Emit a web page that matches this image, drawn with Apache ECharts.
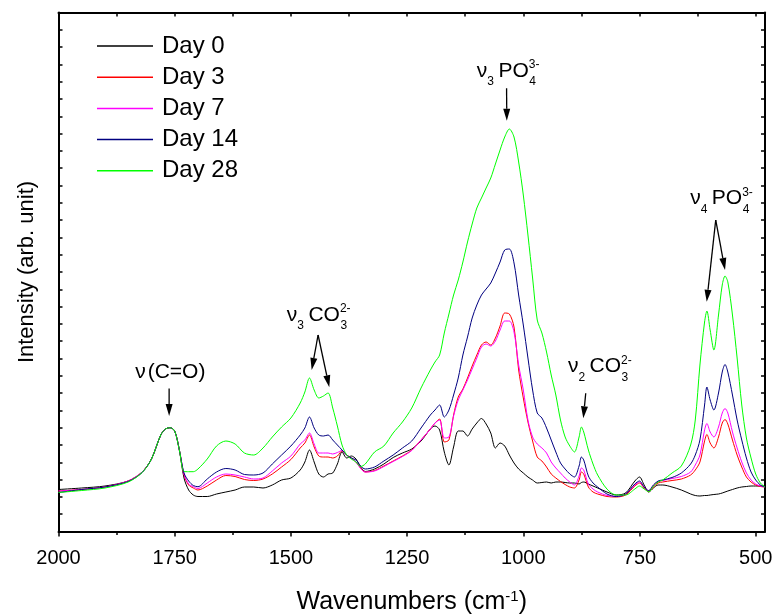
<!DOCTYPE html>
<html>
<head>
<meta charset="utf-8">
<script src="https://cdn.jsdelivr.net/npm/echarts@6/dist/echarts.min.js"></script>
<style>
  html, body { margin: 0; padding: 0; background: #fff; }
  #chart { width: 774px; height: 615px; }
</style>
</head>
<body>
<div id="chart"></div>
<script>
// FTIR spectra, intensity in arbitrary units
const wavenumbers = [
  2000, 1950, 1900, 1850, 1820, 1800, 1780, 1770, 1760, 1750, 1740,
  1730, 1720, 1710, 1700, 1680, 1660, 1640, 1620, 1600, 1580, 1560,
  1540, 1520, 1500, 1480, 1470, 1460, 1450, 1440, 1430, 1420, 1410, 1400, 1390,
  1380, 1370, 1360, 1350, 1340, 1320, 1300, 1280, 1260, 1240, 1220, 1200, 1190,
  1180, 1170, 1160, 1150, 1140, 1130, 1120, 1110, 1100, 1090, 1080, 1070, 1060,
  1050, 1040, 1030, 1020, 1010, 1000, 990, 980, 970, 960, 950, 940, 930,
  920, 910, 900, 890, 880, 875, 870, 860, 850, 840, 820, 800, 780,
  760, 750, 740, 730, 720, 710, 700, 680, 660, 640, 630,
  620, 610, 605, 598, 590, 580, 572, 566, 560, 550, 540, 530, 520, 510, 500, 490, 480
];

const day0 = [
  42, 43.5, 45.5, 50.5, 59.5, 72.5, 96.5, 102.5, 103.8, 100.5, 81.5,
  53.5, 41.5, 36.5, 35, 35, 37.5, 39.5, 41.5, 44.5, 44.5, 43.5,
  46.5, 51.5, 53.5, 61.5, 69.5, 81.5, 69.5, 57.5, 54.5, 57.5, 58.5, 67.5, 79.5,
  73.5, 75.5, 72.5, 64.5, 60, 62.5, 67.5, 74, 78.5, 82.5, 90.5, 102.5, 105.5,
  101.5, 79.5, 66.5, 84.5, 100.5, 100.5, 95.5, 102.5, 108.5, 113, 107.5, 98.5, 83.5,
  88.5, 85.5, 76.5, 68.5, 62.5, 58.5, 54.5, 51.5, 48.5, 49, 49.5, 48.5, 49.5,
  49.5, 49, 48.5, 48.5, 47.5, 49, 49.5, 47.5, 45.5, 43.5, 39.5, 36.5, 38.5,
  50.5, 54.5, 46.5, 39.5, 43.5, 46.5, 46.5, 44.5, 41.5, 37.5, 36,
  35.5, 36, 36, 36.5, 37, 37.5, 38.5, 39.5, 40.5, 42, 43.5, 44.5, 45, 45.5, 45.5, 45.5, 45.5
];

const day3 = [
  40.5, 42, 44.5, 50.5, 59.5, 72.5, 96.5, 102.5, 103.8, 100.5, 81.5,
  56.5, 46.5, 43.5, 41.5, 45.5, 51.5, 56, 55, 52, 51, 52.5,
  57.5, 64.5, 72, 83.5, 88.5, 96.5, 84.5, 75.5, 74.5, 74.5, 73.5, 75.5, 80.5,
  76.5, 73.5, 69.5, 63.5, 59.5, 61, 65.5, 70.5, 75.5, 81.5, 91.5, 102.5, 108.5,
  112.5, 89.5, 91.5, 116.5, 134.5, 142.5, 153.5, 165.5, 176.5, 186.5, 189.5, 186.5, 193.5,
  205.5, 218.5, 217.5, 204.5, 161.5, 133.5, 109.5, 90.5, 74.5, 70.5, 64.5, 57.5, 53.5,
  50, 47, 44.5, 43.5, 51.5, 59.5, 57.5, 44.5, 39.5, 37.5, 35, 34.5, 36.5,
  45.5, 48.5, 43.5, 39.8, 44.5, 48.5, 49.5, 51, 52.5, 56.5, 61.5,
  69.5, 90.5, 97, 88.5, 83.5, 94.5, 108.5, 112, 107.5, 91.5, 76.5, 64.5, 54.5, 49.5, 46.5, 45, 44.5
];

const day7 = [
  40.5, 42, 44.5, 50.5, 59.5, 72.5, 96.5, 102.5, 103.8, 100.5, 81.5,
  57.5, 47.5, 44.8, 43, 48.5, 54.5, 57.5, 56.5, 54.5, 52.5, 53.5,
  60.5, 68.5, 75.5, 87.5, 91.5, 98.5, 87.5, 78.5, 78.5, 78.5, 77.5, 79, 81,
  76, 73.5, 69.5, 63, 59.5, 60.5, 65, 70, 75, 81, 91.5, 102.5, 108.5,
  111.5, 93.5, 94.5, 115.5, 131.5, 141.5, 151.5, 162.5, 173.5, 184.5, 187.5, 185.5, 190.5,
  201.5, 210.5, 210.5, 199.5, 166.5, 141.5, 111.5, 94.5, 87.5, 83.5, 78.5, 69.5, 63.5,
  58.5, 53.5, 49.5, 46.5, 55.5, 63.5, 61.5, 47.5, 42.5, 39.5, 36, 35, 37.5,
  46.5, 49.5, 44.5, 40.8, 46.5, 50, 51, 53, 55, 59.5, 66.5,
  76.5, 101.5, 108, 99.5, 94.5, 104.5, 118.5, 123, 118.5, 99.5, 83.5, 69.5, 58.5, 51.5, 47.5, 45.5, 44.5
];

const day14 = [
  39, 42, 44.5, 50, 59, 72.5, 96.5, 102.5, 103.8, 100.5, 81.5,
  58.5, 50.5, 46, 44.8, 52.5, 59.5, 63, 61.5, 57, 56.5, 58.5,
  67.5, 76.5, 85.5, 96.5, 103.5, 114.5, 103.5, 96.5, 95.5, 96.5, 91.5, 86.5, 81.5,
  76.5, 73.5, 71.5, 65.5, 62.5, 64.5, 70.5, 76.5, 83.5, 90.5, 103.5, 116.5, 121.5,
  126.5, 114.5, 121.5, 136.5, 153.5, 176.5, 194.5, 213.5, 226.5, 236.5, 242.5, 248.5, 258.5,
  269.5, 281.5, 282.5, 268.5, 236.5, 206.5, 173.5, 141.5, 118.5, 113.5, 103.5, 91.5, 79.5,
  68.5, 62.5, 57.5, 54.5, 65.5, 74.5, 71.5, 55.5, 48.5, 44.5, 37.5, 35, 37.5,
  47.5, 50.5, 44.5, 40.8, 46.5, 50.5, 51.5, 54, 58.5, 67.5, 76.5,
  91.5, 126.5, 144.5, 131.5, 121.5, 138.5, 159.5, 167, 159.5, 136.5, 111.5, 91.5, 73.5, 59.5, 51.5, 46.5, 44.5
];

const day28 = [
  39, 41, 43.5, 49.5, 59, 72.5, 96.5, 102.5, 103.8, 100.5, 81.5,
  60, 59.8, 59.8, 62.5, 72.5, 85.5, 90.5, 87.5, 78.5, 76.5, 83.5,
  94.5, 104.5, 113.5, 128.5, 139.5, 153.5, 141.5, 133.5, 135.5, 138.5, 123.5, 105.5, 86.5,
  76.5, 72.5, 69.5, 65, 67.5, 79.5, 85.5, 98.5, 109.5, 123.5, 143.5, 161.5, 169.5,
  176.5, 198.5, 217.5, 236.5, 251.5, 269.5, 289.5, 307.5, 323.5, 333.5, 343.5, 353.5, 367.5,
  381.5, 394.5, 402.5, 394.5, 369.5, 336.5, 296.5, 253.5, 211.5, 198.5, 179.5, 156.5, 136.5,
  111.5, 94.5, 85.5, 79.5, 94.5, 104.5, 99.5, 81.5, 67.5, 56.5, 42.5, 36.5, 36.5,
  42.5, 45.5, 42.5, 39.8, 45.5, 49.5, 51.5, 58.5, 65.5, 86.5, 111.5,
  166.5, 209.5, 220.5, 201.5, 181.5, 216.5, 246.5, 255.5, 249.5, 216.5, 173.5, 126.5, 93.5, 73.5, 57.5, 48.5, 44.5
];

const seriesNames = ['Day 0', 'Day 3', 'Day 7', 'Day 14', 'Day 28'];
const seriesColors = ['#000000', '#ff0000', '#ff00ff', '#000080', '#00ff00'];
const seriesValues = [day0, day3, day7, day14, day28];

const majorTicks = [2000, 1750, 1500, 1250, 1000, 750, 500];
const minorTicks = [1875, 1625, 1375, 1125, 875, 625];
const allTicks = [2000, 1875, 1750, 1625, 1500, 1375, 1250, 1125, 1000, 875, 750, 625, 500];

// peak assignments: text anchor [wavenumber, intensity] and arrows
const peakLabels = [
  { at: [1835, 159.5], plain: '(C=O)' },
  { at: [1509, 216.5], nuSub: '3', species: 'CO', sup: '2-', sub: '3' },
  { at: [1100, 460.5], nuSub: '3', species: 'PO', sup: '3-', sub: '4' },
  { at: [904, 165], nuSub: '2', species: 'CO', sup: '2-', sub: '3' },
  { at: [641, 333.2], nuSub: '4', species: 'PO', sup: '3-', sub: '4' }
];
const peakArrows = [
  [[1762, 143], [1762, 115.5]],
  [[1441.5, 196.5], [1455.3, 161.5]],
  [[1441.5, 196.5], [1417.4, 144.2]],
  [[1036, 443.2], [1035.5, 410.8]],
  [[865.7, 138.2], [870.9, 113.2]],
  [[586, 311.5], [605.4, 229.8]],
  [[586, 311.5], [566, 261.5]]
];

const FONT = 'Liberation Sans, Arial, sans-serif';

let chart = echarts.init(document.getElementById('chart'));

let series = seriesNames.map(function (name, k) {
  return {
    name: name,
    type: 'line',
    xAxisIndex: 0,
    yAxisIndex: 0,
    symbol: 'none',
    showSymbol: false,
    smooth: 0.3,
    data: wavenumbers.map(function (w, i) { return [w, seriesValues[k][i]]; }),
    lineStyle: { color: seriesColors[k], width: 1 },
    itemStyle: { color: seriesColors[k] }
  };
});

let option = {
  animation: false,
  backgroundColor: '#ffffff',
  textStyle: { fontFamily: FONT },
  grid: { left: 58.5, right: 9, top: 12.5, bottom: 83.5, containLabel: false, outerBoundsMode: 'none' },
  legend: {
    orient: 'vertical',
    left: 92,
    top: 29,
    icon: 'rect',
    itemWidth: 56,
    itemHeight: 1.5,
    itemGap: 7.2,
    textStyle: { fontSize: 24, color: '#000', fontFamily: FONT, lineHeight: 24, padding: [0, 0, 0, 4] },
    data: seriesNames
  },
  xAxis: [{
      type: 'value',
      inverse: true,
      min: 480,
      max: 2000,
      position: 'bottom',
      axisLine: { show: true, onZero: false, lineStyle: { color: '#000', width: 2 } },
      axisTick: { show: true, inside: false, length: 5, customValues: majorTicks, lineStyle: { color: '#000', width: 1.5 } },
      axisLabel: {
        customValues: majorTicks, margin: 17, fontSize: 20, color: '#000', fontFamily: FONT,
        formatter: function (v) { return String(v); }
      },
      splitLine: { show: false },
      name: 'Wavenumbers (cm{sup|-1})',
      nameLocation: 'middle',
      nameGap: 58,
      nameTextStyle: {
        fontSize: 25, color: '#000', fontFamily: FONT,
        rich: { sup: { fontSize: 15, verticalAlign: 'top', color: '#000', fontFamily: FONT } }
      }
    },
    {
      // minor ticks along the bottom
      type: 'value',
      inverse: true,
      min: 480,
      max: 2000,
      position: 'bottom',
      axisLine: { show: false },
      axisTick: { show: true, inside: false, length: 3.5, customValues: minorTicks, lineStyle: { color: '#000', width: 1.5 } },
      axisLabel: { show: false },
      splitLine: { show: false }
    },
    {
      type: 'value',
      inverse: true,
      min: 480,
      max: 2000,
      position: 'top',
      axisLine: { show: true, onZero: false, lineStyle: { color: '#000', width: 2 } },
      axisTick: { show: true, inside: true, length: 4, customValues: allTicks, lineStyle: { color: '#000', width: 1.5 } },
      axisLabel: { show: false },
      splitLine: { show: false }
    }
  ],
  yAxis: [{
      type: 'value',
      min: 0,
      max: 519,
      interval: 17.3,
      position: 'left',
      axisLine: { show: true, onZero: false, lineStyle: { color: '#000', width: 2 } },
      axisTick: { show: true, inside: true, length: 4, lineStyle: { color: '#000', width: 1.5 } },
      axisLabel: { show: false },
      splitLine: { show: false },
      name: 'Intensity (arb. unit)',
      nameLocation: 'middle',
      nameGap: 21,
      nameTextStyle: { fontSize: 22, color: '#000', fontFamily: FONT }
    },
    {
      type: 'value',
      min: 0,
      max: 519,
      interval: 17.3,
      position: 'right',
      axisLine: { show: true, onZero: false, lineStyle: { color: '#000', width: 2 } },
      axisTick: { show: true, inside: true, length: 4, lineStyle: { color: '#000', width: 1.5 } },
      axisLabel: { show: false },
      splitLine: { show: false }
    }
  ],
  series: series
};

chart.setOption(option);

// annotation text and arrows, placed through the chart's own scales
let measureCtx = document.createElement('canvas').getContext('2d');
function textWidth(str, size) {
  measureCtx.font = size + 'px ' + FONT;
  return measureCtx.measureText(str).width;
}
function txt(str, x, y, size) {
  return {
    type: 'text', x: x, y: y, z: 100,
    style: { text: str, fontSize: size, fontFamily: FONT, fill: '#000', align: 'left', verticalAlign: 'middle' }
  };
}
function toPx(p) {
  return chart.convertToPixel({ xAxisIndex: 0, yAxisIndex: 0 }, p);
}

let graphics = [];
const BIG = 21, SMALL = 12;
peakLabels.forEach(function (lab) {
  let p = toPx(lab.at);
  let x = p[0], y = p[1];
  graphics.push(txt('ν', x, y, BIG));
  x += textWidth('ν', BIG);
  if (lab.plain) {
    graphics.push(txt(lab.plain, x + 2, y, BIG));
    return;
  }
  graphics.push(txt(lab.nuSub, x, y + 11, SMALL));
  x += textWidth(lab.nuSub, SMALL) + 4.5;
  graphics.push(txt(lab.species, x, y, BIG));
  x += textWidth(lab.species, BIG);
  graphics.push(txt(lab.sup, x, y - 6, SMALL));
  graphics.push(txt(lab.sub, x + 0.5, y + 11, SMALL));
});

peakArrows.forEach(function (a) {
  let p0 = toPx(a[0]), p1 = toPx(a[1]);
  let dx = p1[0] - p0[0], dy = p1[1] - p0[1];
  let len = Math.sqrt(dx * dx + dy * dy);
  let ux = dx / len, uy = dy / len;
  let headLen = 12, half = 3.5;
  let bx = p1[0] - ux * headLen, by = p1[1] - uy * headLen;
  graphics.push({
    type: 'line', z: 100,
    shape: { x1: p0[0], y1: p0[1], x2: bx, y2: by },
    style: { stroke: '#000', lineWidth: 1.3 }
  });
  graphics.push({
    type: 'polygon', z: 100,
    shape: { points: [[p1[0], p1[1]], [bx - uy * half, by + ux * half], [bx + uy * half, by - ux * half]] },
    style: { fill: '#000' }
  });
});

chart.setOption({ graphic: graphics });
</script>
</body>
</html>
